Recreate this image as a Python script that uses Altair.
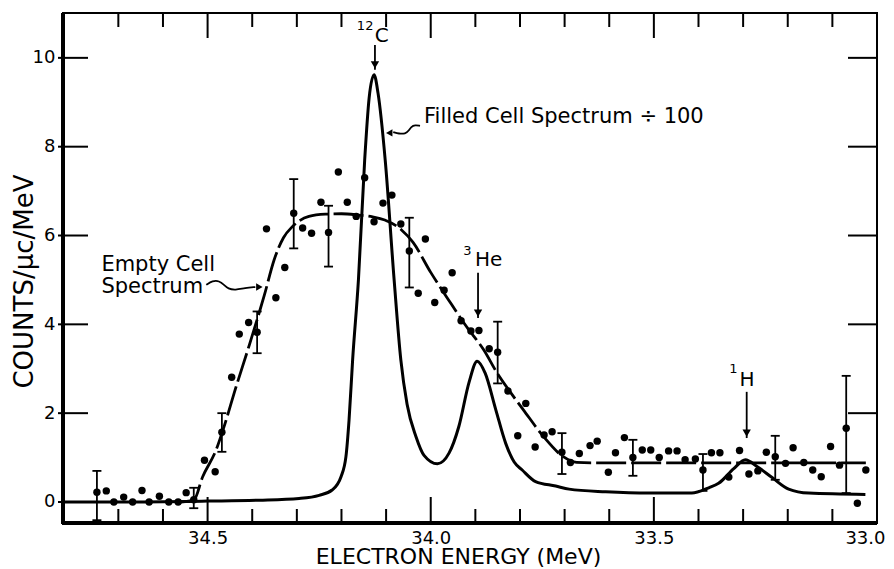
import altair as alt
import pandas as pd

# ---------------- data ----------------
energy = [34.748, 34.727, 34.710, 34.688, 34.668, 34.647, 34.631, 34.608, 34.587, 34.566,
          34.548, 34.531, 34.507, 34.483, 34.468, 34.446, 34.429, 34.408, 34.389, 34.368,
          34.347, 34.327, 34.307, 34.287, 34.267, 34.246, 34.229, 34.207, 34.187, 34.167,
          34.148, 34.127, 34.107, 34.087, 34.067, 34.048, 34.028, 34.012, 33.991, 33.970,
          33.952, 33.932, 33.910, 33.892, 33.869, 33.850, 33.827, 33.805, 33.787, 33.766,
          33.746, 33.728, 33.706, 33.687, 33.667, 33.643, 33.627, 33.602, 33.586, 33.566,
          33.547, 33.526, 33.507, 33.488, 33.467, 33.448, 33.430, 33.407, 33.390, 33.371,
          33.352, 33.332, 33.308, 33.287, 33.267, 33.248, 33.228, 33.205, 33.188, 33.164,
          33.144, 33.125, 33.104, 33.084, 33.069, 33.044, 33.025]
counts = [0.22, 0.25, 0.00, 0.11, 0.00, 0.26, 0.00, 0.13, 0.00, 0.00,
          0.21, 0.05, 0.94, 0.68, 1.57, 2.81, 3.78, 4.04, 3.82, 6.15,
          4.60, 5.28, 6.50, 6.17, 6.05, 6.75, 6.07, 7.43, 6.75, 6.43,
          7.30, 6.31, 6.73, 6.91, 6.26, 5.65, 4.70, 5.92, 4.49, 4.77,
          5.16, 4.08, 3.85, 3.86, 3.45, 3.37, 2.50, 1.49, 2.22, 1.24,
          1.51, 1.58, 1.12, 0.89, 1.09, 1.27, 1.37, 0.67, 1.11, 1.45,
          1.00, 1.17, 1.17, 1.00, 1.15, 1.15, 0.95, 0.97, 0.72, 1.11,
          1.11, 0.56, 1.16, 0.63, 0.70, 1.12, 1.02, 0.87, 1.22, 0.89,
          0.72, 0.57, 1.25, 0.83, 1.66, -0.03, 0.72]

err_energy = [34.748, 34.531, 34.468, 34.389, 34.307, 34.229, 34.048, 33.850, 33.706,
              33.547, 33.390, 33.228, 33.069]
err_low = [-0.41, -0.14, 1.13, 3.35, 5.71, 5.30, 4.83, 2.67, 0.63, 0.59, 0.25, 0.50, 0.20]
err_high = [0.70, 0.32, 2.00, 4.29, 7.27, 6.67, 6.40, 4.06, 1.55, 1.40, 1.08, 1.49, 2.84]

filled_x = [34.824, 34.698, 34.500, 34.384, 34.295, 34.250, 34.221, 34.201, 34.190, 34.183,
            34.175, 34.162, 34.148, 34.138, 34.127, 34.118, 34.102, 34.082, 34.067, 34.053,
            34.033, 34.015, 33.985, 33.959, 33.937, 33.914, 33.896, 33.878, 33.854, 33.832,
            33.813, 33.795, 33.765, 33.720, 33.690, 33.608, 33.511, 33.415, 33.377, 33.355,
            33.321, 33.295, 33.269, 33.235, 33.198, 33.153, 33.026]
filled_y = [0.00, 0.00, 0.02, 0.04, 0.08, 0.15, 0.27, 0.57, 1.02, 1.85,
            3.20, 5.00, 7.70, 9.10, 9.62, 9.20, 7.70, 5.00, 3.20, 2.20,
            1.47, 1.05, 0.86, 1.10, 1.70, 2.70, 3.17, 2.90, 2.07, 1.32,
            0.90, 0.72, 0.46, 0.36, 0.29, 0.23, 0.20, 0.20, 0.32, 0.42,
            0.75, 0.95, 0.80, 0.55, 0.29, 0.20, 0.17]

empty_x = [34.560, 34.531, 34.511, 34.481, 34.462, 34.440, 34.406, 34.373, 34.351, 34.330,
           34.310, 34.273, 34.236, 34.200, 34.162, 34.130, 34.103, 34.066, 34.040, 34.000,
           33.960, 33.920, 33.881, 33.851, 33.820, 33.792, 33.747, 33.703, 33.673, 33.640,
           33.025]
empty_y = [0.00, 0.04, 0.57, 1.17, 1.73, 2.47, 3.55, 4.65, 5.45, 5.95,
           6.20, 6.43, 6.48, 6.49, 6.46, 6.42, 6.35, 6.13, 5.85, 5.17,
           4.55, 3.95, 3.42, 2.90, 2.45, 2.07, 1.47, 1.02, 0.89, 0.88,
           0.88]

x_labels = [34.5, 34.0, 33.5, 33.0]
x_major = [34.5, 34.0, 33.5]
x_minor = [34.7, 34.6, 34.4, 34.3, 34.2, 34.1, 33.9, 33.8, 33.7, 33.6,
           33.4, 33.3, 33.2, 33.1]
y_left_ticks = [0, 2, 4, 6, 8, 10]
y_right_ticks = [2, 4, 6, 8, 10]

# annotations
label_text = ["Filled Cell Spectrum \u00f7 100", "Empty Cell", "Spectrum", "C", "He", "H"]
label_x = [34.015, 34.738, 34.738, 34.110, 33.870, 33.291]
label_y = [8.67, 5.34, 4.84, 10.50, 5.45, 2.75]
label_align = ["left", "left", "left", "center", "center", "center"]
label_size = [21, 21, 21, 20, 20, 20]

sup_text = ["12", "3", "1"]
sup_x = [34.147, 33.918, 33.322]
sup_y = [10.72, 5.65, 2.99]

arrow_x = [34.125, 33.894, 33.292]
arrow_top = [10.29, 5.16, 2.48]
arrow_tip = [9.73, 4.14, 1.44]

squig1_x = [34.024, 34.035, 34.044, 34.049, 34.057, 34.071, 34.084]
squig1_y = [8.47, 8.49, 8.45, 8.36, 8.29, 8.29, 8.33]
squig2_x = [34.503, 34.489, 34.474, 34.463, 34.454, 34.438, 34.416, 34.393]
squig2_y = [4.89, 4.98, 4.98, 4.89, 4.80, 4.77, 4.82, 4.84]
head_left = (34.093, 8.31)
head_right = (34.384, 4.84)

# ---------------- chart ----------------
W, H = 814, 510
FONT = "DejaVu Sans"

xs = alt.Scale(domain=[33.0, 34.824], reverse=True, nice=False, zero=False)
ys = alt.Scale(domain=[-0.473, 11.01], nice=False, zero=False)

xaxis = alt.Axis(values=x_labels, format=".1f", ticks=False, domain=False, grid=False,
                 labelFont=FONT, labelFontSize=18, labelColor="black", labelPadding=6,
                 labelFlush=True, labelFlushOffset=8, labelOverlap=False,
                 title="ELECTRON ENERGY (MeV)", titleFont=FONT, titleFontSize=22,
                 titleFontWeight="normal", titleColor="black",
                 titleX=395, titleY=40, titleAlign="center", titleBaseline="alphabetic")
yaxis = alt.Axis(values=y_left_ticks, ticks=False, domain=False, grid=False,
                 labelFont=FONT, labelFontSize=18, labelColor="black", labelPadding=8,
                 title="COUNTS/\u03bcc/MeV", titleFont=FONT, titleFontSize=26,
                 titleFontWeight="normal", titleColor="black",
                 titleX=-39, titleY=268, titleAngle=270, titleAlign="center",
                 titleBaseline="middle")


def X():
    return alt.X("e:Q", scale=xs, axis=xaxis, title="ELECTRON ENERGY (MeV)")


def Y(field="c"):
    return alt.Y(f"{field}:Q", scale=ys, axis=yaxis, title="COUNTS/\u03bcc/MeV")


pts_df = pd.DataFrame({"e": energy, "c": counts})
err_df = pd.DataFrame({"e": err_energy, "lo": err_low, "hi": err_high})
filled_df = pd.DataFrame({"e": filled_x, "c": filled_y})
empty_df = pd.DataFrame({"e": empty_x, "c": empty_y})

points = alt.Chart(pts_df).mark_circle(size=55, color="black", opacity=1).encode(
    x=X(), y=Y("c"))

err_rule = alt.Chart(err_df).mark_rule(color="black", strokeWidth=1.8).encode(
    x=X(), y=Y("lo"), y2="hi:Q")
err_cap_lo = alt.Chart(err_df).mark_tick(orient="horizontal", size=9, thickness=1.8,
                                         color="black", opacity=1).encode(x=X(), y=Y("lo"))
err_cap_hi = alt.Chart(err_df).mark_tick(orient="horizontal", size=9, thickness=1.8,
                                         color="black", opacity=1).encode(x=X(), y=Y("hi"))

filled_line = alt.Chart(filled_df).mark_line(color="black", strokeWidth=3,
                                             interpolate="monotone").encode(x=X(), y=Y())
empty_line = alt.Chart(empty_df).mark_line(color="black", strokeWidth=2.8,
                                           strokeDash=[30, 5],
                                           interpolate="monotone").encode(x=X(), y=Y())

# inward tick marks and frame
major_df = pd.DataFrame({"e": x_major})
minor_df = pd.DataFrame({"e": x_minor})
bot_major = alt.Chart(major_df).mark_rule(color="black", strokeWidth=2).encode(
    x=X(), y=alt.value(H), y2=alt.value(H - 26))
bot_minor = alt.Chart(minor_df).mark_rule(color="black", strokeWidth=2).encode(
    x=X(), y=alt.value(H), y2=alt.value(H - 14))
top_major = alt.Chart(major_df).mark_rule(color="black", strokeWidth=2).encode(
    x=X(), y=alt.value(0), y2=alt.value(25))
top_minor = alt.Chart(minor_df).mark_rule(color="black", strokeWidth=2).encode(
    x=X(), y=alt.value(0), y2=alt.value(14))
left_ticks = alt.Chart(pd.DataFrame({"c": y_left_ticks})).mark_rule(
    color="black", strokeWidth=2).encode(y=Y(), x=alt.value(-5), x2=alt.value(25))
right_ticks = alt.Chart(pd.DataFrame({"c": y_right_ticks})).mark_rule(
    color="black", strokeWidth=2).encode(y=Y(), x=alt.value(W - 29), x2=alt.value(W))

one = pd.DataFrame({"k": [0]})
left_frame = alt.Chart(one).mark_rule(color="black", strokeWidth=4).encode(
    x=alt.value(0), y=alt.value(0), y2=alt.value(H + 1))
bottom_frame = alt.Chart(one).mark_rule(color="black", strokeWidth=4).encode(
    x=alt.value(-1), x2=alt.value(W), y=alt.value(H))

# annotations
lab_df = pd.DataFrame({"t": label_text, "e": label_x, "c": label_y,
                       "a": label_align, "s": label_size})
labels_left = alt.Chart(lab_df[lab_df.a == "left"]).mark_text(
    font=FONT, align="left", baseline="middle", color="black").encode(
    x=X(), y=Y(), text="t:N", size=alt.Size("s:Q", scale=None, legend=None))
labels_center = alt.Chart(lab_df[lab_df.a == "center"]).mark_text(
    font=FONT, align="center", baseline="middle", color="black").encode(
    x=X(), y=Y(), text="t:N", size=alt.Size("s:Q", scale=None, legend=None))
sup_df = pd.DataFrame({"t": sup_text, "e": sup_x, "c": sup_y})
sups = alt.Chart(sup_df).mark_text(font=FONT, fontSize=13, align="center",
                                   baseline="middle", color="black").encode(
    x=X(), y=Y(), text="t:N")

arr_df = pd.DataFrame({"e": arrow_x, "top": arrow_top, "tip": arrow_tip})
arrow_lines = alt.Chart(arr_df).mark_rule(color="black", strokeWidth=1.8).encode(
    x=X(), y=Y("top"), y2="tip:Q")
arrow_heads = alt.Chart(arr_df).mark_point(shape="triangle-down", filled=True, size=70,
                                           color="black", opacity=1, yOffset=-5).encode(
    x=X(), y=Y("tip"))

squig1 = alt.Chart(pd.DataFrame({"e": squig1_x, "c": squig1_y})).mark_line(
    color="black", strokeWidth=1.8, interpolate="basis").encode(x=X(), y=Y())
squig2 = alt.Chart(pd.DataFrame({"e": squig2_x, "c": squig2_y})).mark_line(
    color="black", strokeWidth=1.8, interpolate="basis").encode(x=X(), y=Y())
hl = alt.Chart(pd.DataFrame({"e": [head_left[0]], "c": [head_left[1]]})).mark_point(
    shape="triangle-left", filled=True, size=55, color="black", opacity=1).encode(x=X(), y=Y())
hr = alt.Chart(pd.DataFrame({"e": [head_right[0]], "c": [head_right[1]]})).mark_point(
    shape="triangle-right", filled=True, size=55, color="black", opacity=1).encode(x=X(), y=Y())

chart = alt.layer(
    points, err_rule, err_cap_lo, err_cap_hi, filled_line, empty_line,
    bot_major, bot_minor, top_major, top_minor, left_ticks, right_ticks,
    left_frame, bottom_frame,
    labels_left, labels_center, sups, arrow_lines, arrow_heads,
    squig1, squig2, hl, hr,
).properties(
    width=W, height=H,
    autosize=alt.AutoSizeParams(type="none"),
    padding={"left": 55, "top": 5, "right": 9, "bottom": 45},
    background="white",
).configure_view(stroke="black", strokeWidth=2)

chart.save("out.html", embed_options={"renderer": "svg", "actions": False})
